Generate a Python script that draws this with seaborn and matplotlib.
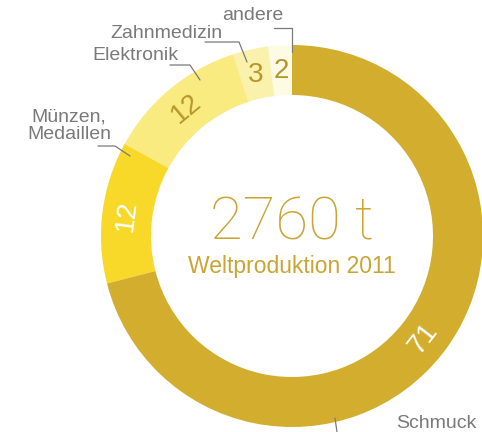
import numpy as np
import matplotlib
matplotlib.use("Agg")
import matplotlib.pyplot as plt
from matplotlib import font_manager
import seaborn as sns

# Data (percent of world gold production 2011)
categories = ["andere", "Zahnmedizin", "Elektronik", "Münzen,\nMedaillen", "Schmuck"]
values = [2, 3, 12, 12, 71]
value_labels = ["2", "3", "12", "12", "71"]
total_label = "2760 t"
subtitle = "Weltproduktion 2011"

colors = ["#FDFBE4", "#FAF2AC", "#F9EB80", "#F8D92A", "#D3AE2E"]
num_colors = ["#B8962C", "#B8962C", "#B8962C", "#FFFFFF", "#FFFFFF"]
rotate = [False, False, True, True, True]

sns.set_theme(style="white")
plt.rcParams['font.family'] = ['Liberation Sans', 'DejaVu Sans']

# find a light font for the big number
light_family = 'Liberation Sans'
for fam in ['Roboto', 'Lato', 'Open Sans', 'Inter']:
    try:
        fp = font_manager.FontProperties(family=fam, weight='light')
        path = font_manager.findfont(fp, fallback_to_default=False)
        if 'light' in path.lower() or 'thin' in path.lower():
            light_family = fam
            break
    except Exception:
        pass

W, H = 482, 432
fig = plt.figure(figsize=(W / 100, H / 100), dpi=100)
ax = fig.add_axes([0, 0, 1, 1])

cx, cy, R = 292, 236, 191
width = 50

wedges, _ = ax.pie(values, colors=colors, startangle=-90, counterclock=False,
                   radius=R, center=(cx, cy), frame=True,
                   wedgeprops=dict(width=width, linewidth=0))
ax.set_xlim(0, W)
ax.set_ylim(H, 0)
ax.axis("off")

rmid = R - width / 2
for w, lab, c, rot in zip(wedges, value_labels, num_colors, rotate):
    ang = np.deg2rad((w.theta1 + w.theta2) / 2)
    x = cx + rmid * np.cos(ang)
    y = cy + rmid * np.sin(ang)
    mid_deg = -(w.theta1 + w.theta2) / 2
    r = (mid_deg - 90) % 360 if rot else 0
    if rot and r > 180:
        r -= 360
    if rot and r < -90:
        r += 180
    ax.text(x, y + 1, lab, color=c, fontsize=20, ha="center", va="center",
            rotation=r, rotation_mode="anchor")

# center text
ax.text(cx, 223, total_label, color="#C8A535", fontsize=43, ha="center", va="center",
        family=[light_family, 'DejaVu Sans'], fontweight="light")
ax.text(cx, 267, subtitle, color="#C8A535", fontsize=16.5, ha="center", va="center")

grey = "#7A7A7A"
lab_fs = 14
ax.text(253, 15, categories[0], color=grey, fontsize=lab_fs, ha="center", va="center")
ax.plot([274, 292, 292], [28, 28, 52], color=grey, lw=0.9)

ax.text(166, 33, categories[1], color=grey, fontsize=lab_fs, ha="center", va="center")
ax.plot([205, 239, 247], [42, 42, 62], color=grey, lw=0.9)

ax.text(135, 55, categories[2], color=grey, fontsize=lab_fs, ha="center", va="center")
ax.plot([170, 190, 200], [65, 65, 80], color=grey, lw=0.9)

ax.text(69, 126, categories[3], color=grey, fontsize=lab_fs, ha="center", va="center",
        linespacing=1.0)
ax.plot([98, 115, 130], [146, 146, 156], color=grey, lw=0.9)

ax.text(436, 423, categories[4], color=grey, fontsize=lab_fs, ha="center", va="center")
ax.plot([335, 337], [418, 432], color=grey, lw=0.9)

fig.savefig("out.png", dpi=100)
